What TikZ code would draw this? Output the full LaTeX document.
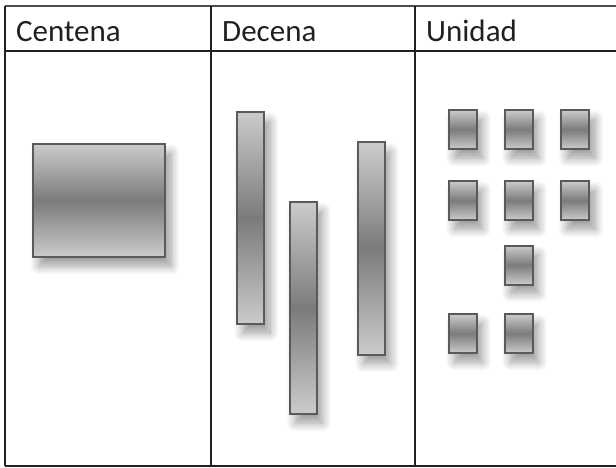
\documentclass[tikz,border=0pt]{standalone}
\usepackage{fontspec}
\setmainfont{Carlito}
\usepackage{tikz}
\usetikzlibrary{shadows.blur}

\definecolor{barlight}{HTML}{CACBCD}
\definecolor{bardark}{HTML}{7A7B7D}
\definecolor{barline}{HTML}{5A5A5A}
\definecolor{tableline}{HTML}{231F20}

\begin{document}
\begin{tikzpicture}[x=1pt,y=-1pt,
		block/.style={rectangle,inner sep=0pt,draw=barline,line width=2pt,
			top color=barlight,bottom color=barlight,middle color=bardark,
			blur shadow={shadow xshift=6pt,shadow yshift=-9pt,shadow blur radius=9pt,shadow blur steps=12,shadow opacity=40}},
		hundred/.style={block,minimum width=132pt,minimum height=113pt},
		ten/.style={block,minimum width=27pt,minimum height=212pt},
		one/.style={block,minimum width=28pt,minimum height=39pt},
		title/.style={anchor=base west,inner sep=0pt,font=\fontsize{31}{33}\selectfont,text=tableline}]

		\useasboundingbox (0,0) rectangle (616,468);

		% table
		\draw[line width=1.5pt,tableline!80] (5,6) -- (616,6);
		\draw[line width=2pt,tableline] (5,51) -- (616,51)
		(5,466) -- (616,466)
		(5,6) -- (5,466)
		(210.5,6) -- (210.5,466)
		(414.5,6) -- (414.5,466);

		\node[title] (Centena) at (16,42) {Centena};
		\node[title] (Decena) at (222,42) {Decena};
		\node[title] (Unidad) at (426,42) {Unidad};

		% centena
		\node[hundred] (C1) at (99,200.5) {};

		% decenas
		\node[ten] (D1) at (250.5,218) {};
		\node[ten] (D2) at (303,308) {};
		\node[ten] (D3) at (371,248.5) {};

		% unidades
		\node[one] (U1) at (462.5,129.5) {};
		\node[one] (U2) at (518.5,129.5) {};
		\node[one] (U3) at (575,129.5) {};
		\node[one] (U4) at (462.5,200.5) {};
		\node[one] (U5) at (518.5,200.5) {};
		\node[one] (U6) at (575,200.5) {};
		\node[one] (U7) at (518.5,265) {};
		\node[one] (U8) at (462.5,333.5) {};
		\node[one] (U9) at (518.5,333.5) {};
	\end{tikzpicture}
\end{document}
